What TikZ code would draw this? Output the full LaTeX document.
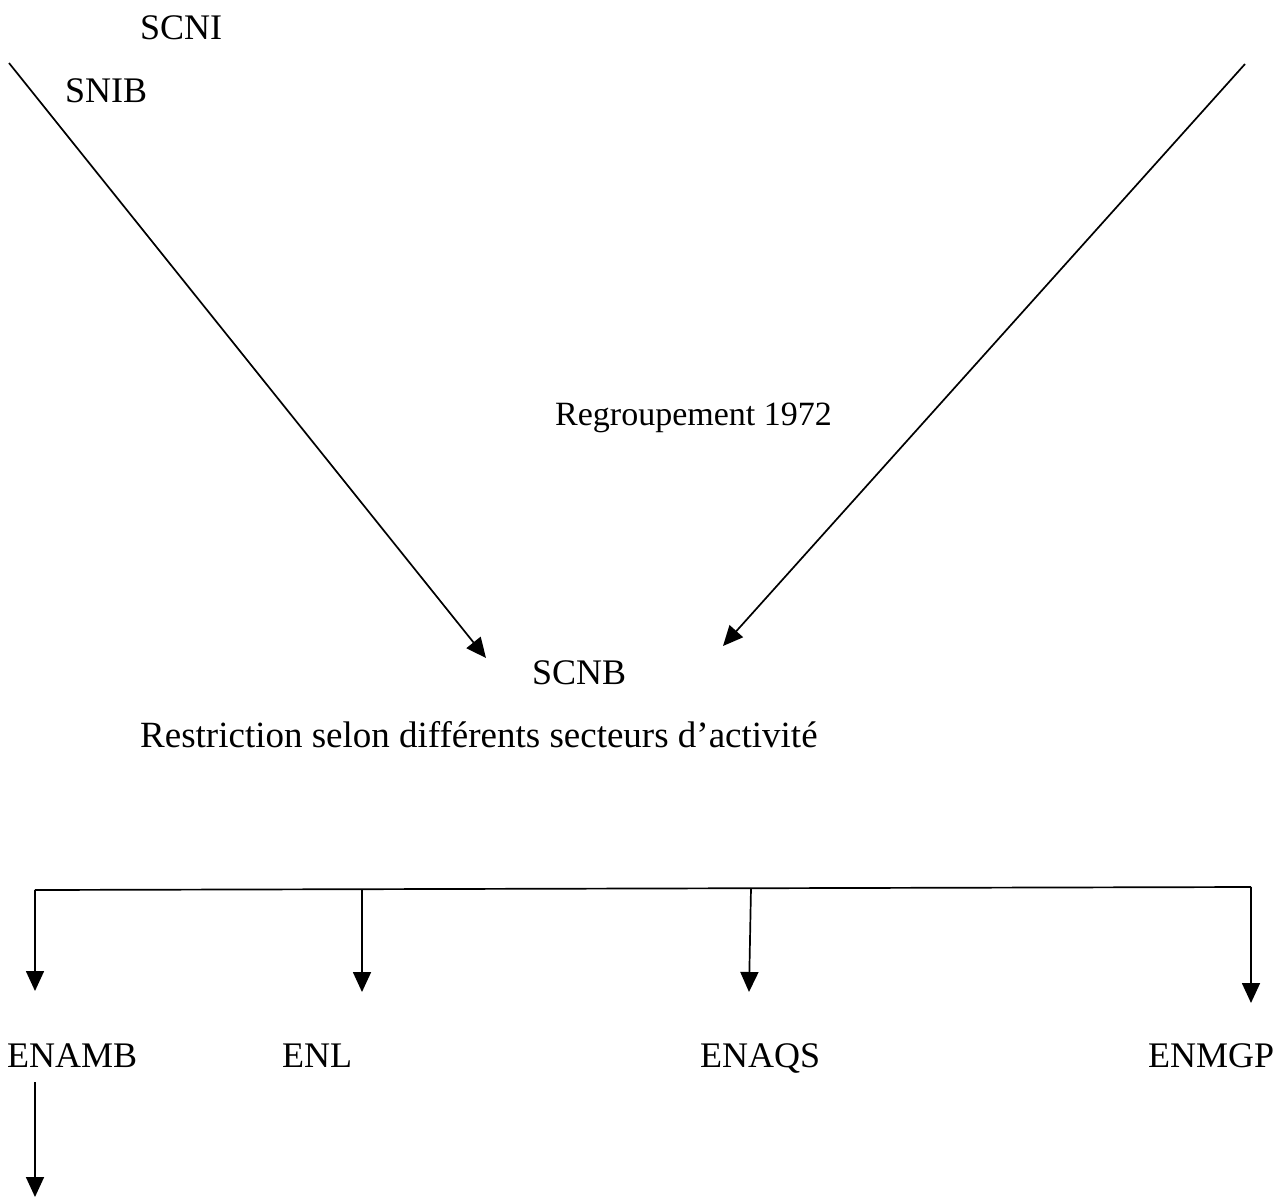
\documentclass[tikz,border=0pt]{standalone}
\usepackage{fontspec}
\setmainfont{Liberation Serif}
\usetikzlibrary{arrows.meta}
\begin{document}
\begin{tikzpicture}[x=1pt,y=-1pt,
  lbl/.style={anchor=base west,inner sep=0pt,font=\fontsize{36}{43}\selectfont},
  conn/.style={line width=1.7pt,-{Triangle[length=20pt,width=18pt]}},
  bar/.style={line width=1.7pt}]
\useasboundingbox (0,0) rectangle (1286,1197);
% labels
\node[lbl] (scni) at (140,39) {SCNI};
\node[lbl] (snib) at (65,102) {SNIB};
\node[lbl,font=\fontsize{34}{41}\selectfont] (regr) at (555,425) {Regroupement 1972};
\node[lbl] (scnb) at (532,684) {SCNB};
\node[lbl,font=\fontsize{37}{44}\selectfont] (restr) at (140,747) {Restriction selon différents secteurs d’activité};
\node[lbl] (enamb) at (7,1067) {ENAMB};
\node[lbl] (enl) at (282,1067) {ENL};
\node[lbl] (enaqs) at (700,1067) {ENAQS};
\node[lbl] (enmgp) at (1148,1067) {ENMGP};
% coordinates
\coordinate (lstart) at (9,63);
\coordinate (lend) at (486,658);
\coordinate (rstart) at (1245,64);
\coordinate (rend) at (723,646);
\coordinate (b1) at (35,890);
\coordinate (b2) at (362,889);
\coordinate (b3) at (751,888);
\coordinate (b4) at (1251,887);
\coordinate (t1) at (35,991);
\coordinate (t2) at (362,992);
\coordinate (t3) at (749,992);
\coordinate (t4) at (1251,1003);
\coordinate (s5) at (35,1082);
\coordinate (t5) at (35,1197);
% connectors
\draw[conn] (lstart) -- (lend);
\draw[conn] (rstart) -- (rend);
\draw[bar] (b1) -- (b4);
\draw[conn] (b1) -- (t1);
\draw[conn] (b2) -- (t2);
\draw[conn] (b3) -- (t3);
\draw[conn] (b4) -- (t4);
\draw[conn] (s5) -- (t5);
\end{tikzpicture}
\end{document}
